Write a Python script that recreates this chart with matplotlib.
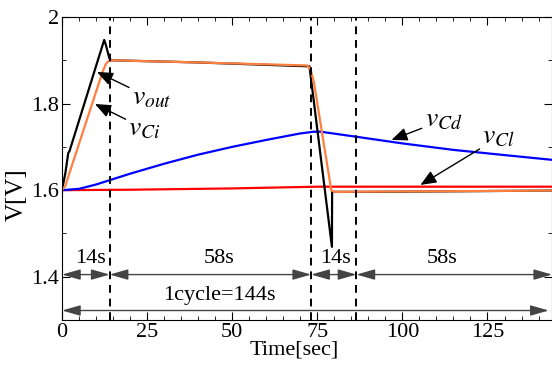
import matplotlib.pyplot as plt
from matplotlib.ticker import MultipleLocator, FormatStrFormatter

plt.rcParams['font.family'] = ['Liberation Serif', 'DejaVu Serif']
plt.rcParams['mathtext.fontset'] = 'stix'

# v_out (black)
t_out = [0, 1.0, 1.85, 2.2, 12.4, 12.9, 13.9, 14.5, 40, 72.7, 79.3, 79.35, 90, 144]
v_out = [1.600, 1.640, 1.686, 1.690, 1.947, 1.935, 1.905, 1.900, 1.895, 1.886, 1.469, 1.596, 1.596, 1.599]
# v_Ci (orange)
t_ci = [0, 1.0, 2.0, 12.0, 13.0, 13.8, 14.5, 40, 72.1, 73.0, 74.0, 79.1, 80, 144]
v_ci = [1.600, 1.610, 1.635, 1.875, 1.893, 1.899, 1.900, 1.895, 1.888, 1.880, 1.850, 1.600, 1.596, 1.599]
# v_Cd (blue)
t_cd = [0, 5, 10, 14, 20, 30, 40, 50, 60, 64, 70, 74, 76, 85, 100, 115, 130, 144]
v_cd = [1.600, 1.603, 1.613, 1.623, 1.638, 1.661, 1.682, 1.700, 1.716, 1.722, 1.731, 1.735, 1.735, 1.725, 1.708, 1.693, 1.681, 1.670]
# v_Cl (red)
t_cl = [0, 20, 50, 75, 100, 144]
v_cl = [1.600, 1.601, 1.604, 1.608, 1.608, 1.608]

marks = [14, 73.2, 86.5]
spans = [(0, 14), (14, 73.2), (73.2, 86.5), (86.5, 144)]
span_labels = ['14s', '58s', '14s', '58s']
span_label_x = [8.5, 46, 80.4, 111.8]

fig = plt.figure(figsize=(5.52, 3.67), dpi=100)
ax = fig.add_axes([0.1123, 0.128, 0.888, 0.8257])

ax.plot(t_cl, v_cl, color='#ff0000', lw=1.6)
ax.plot(t_cd, v_cd, color='#0000ff', lw=1.6)
ax.plot(t_out, v_out, color='black', lw=1.6)
ax.plot(t_ci, v_ci, color='#ff7f3f', lw=1.6)

for m in marks:
    ax.axvline(m, color='black', lw=1.4, ls=(0, (4, 3)))

span_arrow = dict(arrowstyle='<|-|>,head_length=0.7,head_width=0.2', color='#444444',
                  lw=1, mutation_scale=16, shrinkA=0, shrinkB=0)
for (a, b), lab, lx in zip(spans, span_labels, span_label_x):
    ax.annotate('', xy=(a, 1.405), xytext=(b, 1.405), arrowprops=span_arrow)
    ax.text(lx, 1.443, lab, ha='center', va='center', fontsize=16)

ax.annotate('', xy=(143, 1.322), xytext=(0, 1.322), arrowprops=span_arrow)
ax.text(46.3, 1.357, '1cycle=144s', ha='center', va='center', fontsize=16)

arrow = dict(arrowstyle='-|>,head_length=0.6,head_width=0.25', color='black', lw=1,
             mutation_scale=16, shrinkA=0, shrinkB=0)
ax.annotate(r'$v_{out}$', xy=(10.3, 1.873), xytext=(20.5, 1.812), fontsize=20,
            va='center', ha='left', arrowprops=arrow)
ax.annotate(r'$v_{Ci}$', xy=(9.7, 1.799), xytext=(19.5, 1.742), fontsize=20,
            va='center', ha='left', arrowprops=arrow)
ax.annotate(r'$v_{Cd}$', xy=(96.8, 1.716), xytext=(106.5, 1.762), fontsize=20,
            va='center', ha='left', arrowprops=arrow)
ax.annotate(r'$v_{Cl}$', xy=(105.3, 1.612), xytext=(123.5, 1.722), fontsize=20,
            va='center', ha='left', arrowprops=arrow)

ax.set_xlim(0, 144)
ax.set_ylim(1.3, 2.0)
ax.xaxis.set_major_locator(MultipleLocator(25))
ax.xaxis.set_minor_locator(MultipleLocator(5))
ax.yaxis.set_major_locator(MultipleLocator(0.2))
ax.yaxis.set_minor_locator(MultipleLocator(0.1))
ax.yaxis.set_major_formatter(FormatStrFormatter('%g'))
ax.tick_params(which='both', direction='in', top=True, right=True, labelsize=16)
ax.tick_params(which='major', length=6, pad=2)
ax.tick_params(which='minor', length=3)
ax.set_xlabel('Time[sec]', fontsize=16)
ax.set_ylabel('V[V]', fontsize=18)
ax.xaxis.set_label_coords(0.474, -0.066)
ax.yaxis.set_label_coords(-0.069, 0.413)

fig.savefig('out.png', dpi=100)
